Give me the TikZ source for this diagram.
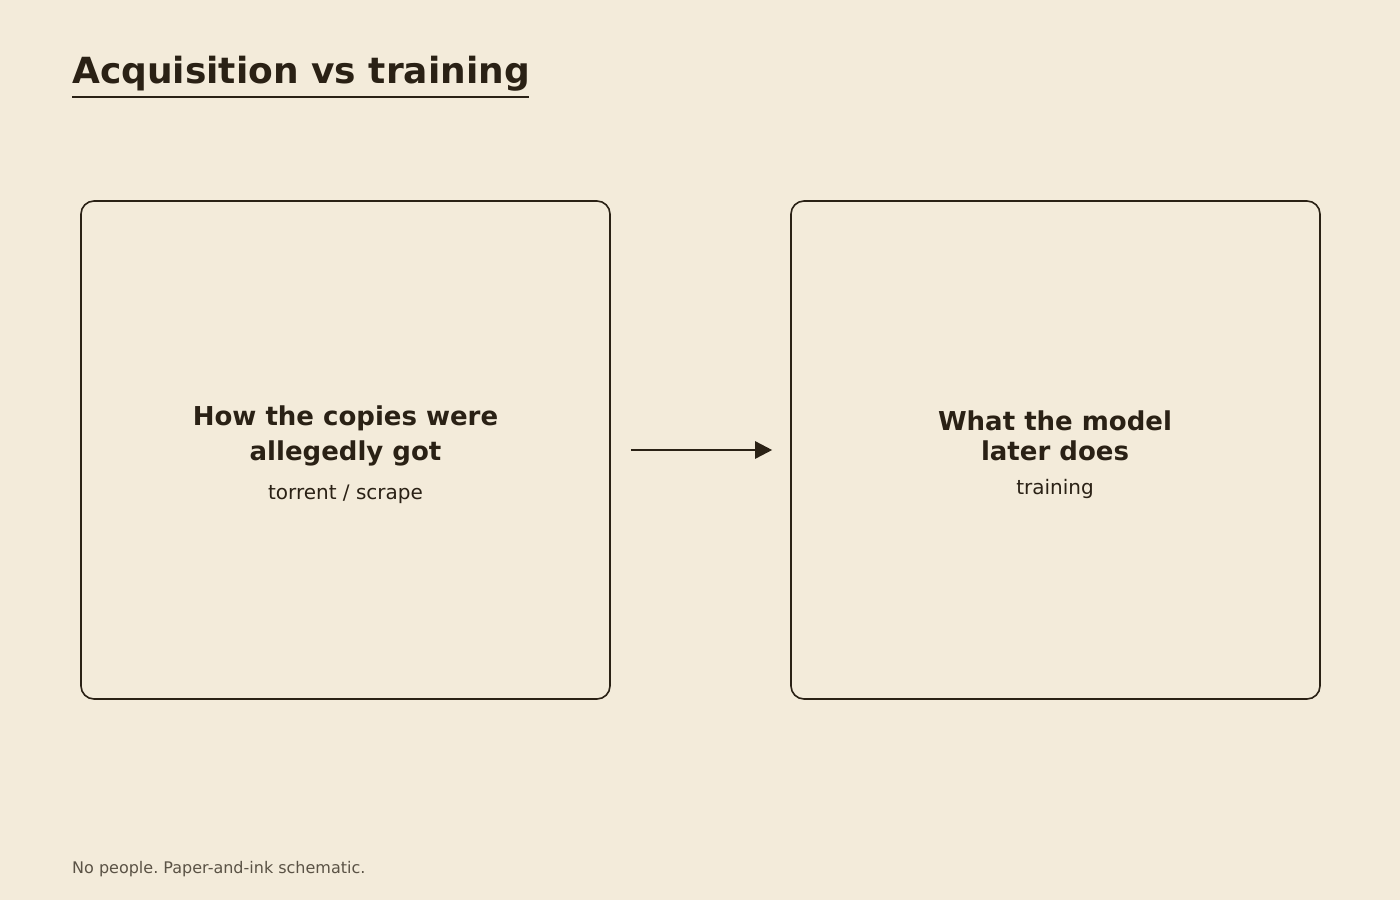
\documentclass[tikz,border=0pt]{standalone}
\usepackage{fontspec}
\setmainfont{DejaVu Sans}
\frenchspacing
\usetikzlibrary{arrows.meta}
\definecolor{paper}{HTML}{F3EBDA}
\definecolor{ink}{HTML}{2A2115}
\definecolor{footgray}{HTML}{5A5245}
\tikzset{
  panel/.style={draw=ink, line width=1.6pt, rounded corners=13pt, minimum width=529pt, minimum height=498pt, inner sep=0pt},
  headtxt/.style={anchor=base, inner sep=0pt, text=ink, font=\fontsize{26}{30}\selectfont\bfseries},
  subtxt/.style={anchor=base, inner sep=0pt, text=ink, font=\fontsize{20}{24}\selectfont},
  flow/.style={draw=ink, line width=2.6pt, -{Triangle[length=17pt,width=17pt]}},
}
\begin{document}
\begin{tikzpicture}[x=1pt,y=-1pt]
\fill[paper] (0,0) rectangle (1400,900);
\useasboundingbox (0,0) rectangle (1400,900);
% title
\node[anchor=base west, inner sep=0pt, text=ink, font=\fontsize{36}{43}\selectfont\bfseries] (title) at (72,83.5) {Acquisition vs training};
\draw[ink, line width=2pt] (72,97) coordinate (ulA) -- (529,97) coordinate (ulB);
% panels
\node[panel] (left) at (345.5,450) {};
\node[panel] (right) at (1055.5,450) {};
% left text
\node[headtxt] (l1) at (345.5,425.5) {How the copies were};
\node[headtxt] (l2) at (345.5,460.5) {allegedly got};
\node[subtxt] (l3) at (345.5,499) {torrent / scrape};
% right text
\node[headtxt] (r1) at (1055,430.5) {What the model};
\node[headtxt] (r2) at (1055,460.5) {later does};
\node[subtxt] (r3) at (1055,494.5) {training};
% arrow
\draw[flow] ([xshift=20pt]left.east) -- ([xshift=-18pt]right.west);
% footer
\node[anchor=base west, inner sep=0pt, text=footgray, font=\fontsize{16}{19}\selectfont] (foot) at (72,873) {No people. Paper-and-ink schematic.};
\end{tikzpicture}
\end{document}
